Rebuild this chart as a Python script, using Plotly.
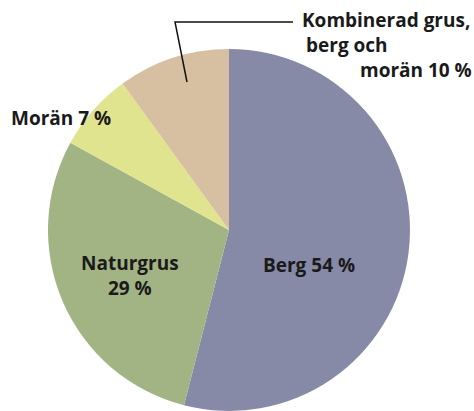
import plotly.graph_objects as go

categories = ["Berg", "Naturgrus", "Morän", "Kombinerad grus, berg och morän"]
values = [54, 29, 7, 10]
colors = ["#878aa7", "#a2b484", "#e1e48f", "#d7bfa1"]

W, H = 474, 411

def px(x):
    return x / W

def py(y):
    return 1 - y / H

cx, cy, r = 229, 230, 181

fig = go.Figure(go.Pie(
    labels=categories,
    values=values,
    sort=False,
    direction="clockwise",
    rotation=0,
    marker=dict(colors=colors, line=dict(width=0)),
    textinfo="none",
    hoverinfo="label+percent",
    showlegend=False,
    domain=dict(x=[px(cx - r), px(cx + r)], y=[max(0, py(cy + r)), py(cy - r)]),
))

font = dict(family="Open Sans", size=19, color="#1a1a1a")

def ann(text, x, y, xanchor="left"):
    fig.add_annotation(text=text, x=px(x), y=py(y), xref="paper", yref="paper",
                       xanchor=xanchor, yanchor="middle", showarrow=False, font=font)

ann("<b>Kombinerad grus,</b>", 300, 20)
ann("<b>berg och</b>", 304, 45)
ann("<b>morän 10 %</b>", 474, 70, "right")
ann("<b>Morän 7 %</b>", 9, 118)
ann("<b>Naturgrus</b><br><b>29 %</b>", 130, 275, "center")
ann("<b>Berg 54 %</b>", 309, 265, "center")

fig.add_shape(type="path",
              path=f"M {px(293)} {py(22)} L {px(175)} {py(22)} L {px(187)} {py(82)}",
              xref="paper", yref="paper", line=dict(color="#111111", width=1.5))

fig.update_layout(width=W, height=H, margin=dict(l=0, r=0, t=0, b=0),
                  paper_bgcolor="white", plot_bgcolor="white")

fig.write_html("out.html", config={"displayModeBar": False},
               post_script="document.body.style.margin='0';document.body.style.overflow='hidden';")
